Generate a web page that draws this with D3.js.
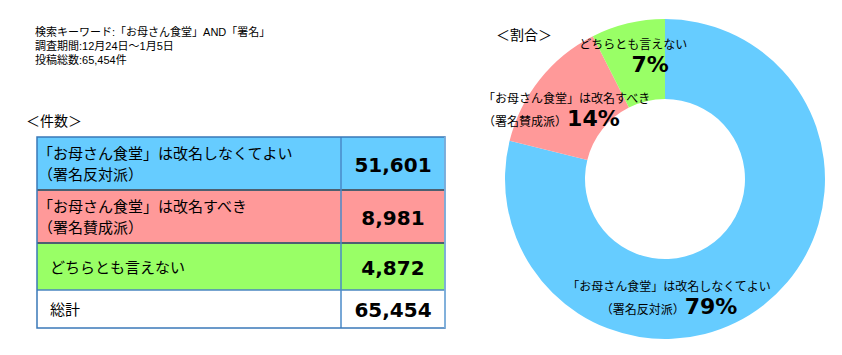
<!DOCTYPE html>
<html>
<head>
<meta charset="utf-8">
<script src="https://cdn.jsdelivr.net/npm/d3@7"></script>
<style>
  body { margin: 0; background: #fff; }
  text { font-family: "Noto Sans CJK JP", sans-serif; }
  .info { font-family: "Liberation Sans", "Noto Sans CJK JP", sans-serif; }
  .num { font-family: "DejaVu Sans", Verdana, sans-serif; font-weight: bold; }
</style>
</head>
<body>
<div id="chart"></div>
<script>
// header info
const infoLines = ["検索キーワード:「お母さん食堂」AND「署名」", "調査期間:12月24日～1月5日", "投稿総数:65,454件"];

// categories (two-line labels), counts and colours
const labelLine1 = ["「お母さん食堂」は改名しなくてよい", "「お母さん食堂」は改名すべき", "どちらとも言えない"];
const labelLine2 = ["（署名反対派）", "（署名賛成派）", ""];
const counts = [51601, 8981, 4872];
const colors = ["#66ccff", "#ff9999", "#99ff66"];
const totalLabel = "総計";

const W = 842, H = 355;
const svg = d3.select("#chart").append("svg").attr("width", W).attr("height", H);

const fmt = d3.format(",");
const total = d3.sum(counts);

// info text
svg.append("g").selectAll("text").data(infoLines).join("text")
  .attr("class", "info")
  .attr("x", 35).attr("y", (d, i) => 36 + i * 14)
  .attr("font-size", 11).attr("fill", "#000").text(d => d);

svg.append("text").attr("x", 26).attr("y", 126).attr("font-size", 14).text("＜件数＞");

// ---- table ----
const tbl = { x: 37, colX: 341, right: 445 };
const rowNames = d3.range(counts.length + 1);
const rowHeights = [53, 53, 47, 38];
const y0 = 137;
const rowY = rowHeights.map((h, i) => y0 + d3.sum(rowHeights.slice(0, i)));

const rows = svg.append("g").selectAll("g").data(rowNames).join("g")
  .attr("transform", i => `translate(0,${rowY[i]})`);

rows.append("rect")
  .attr("x", tbl.x).attr("width", tbl.right - tbl.x)
  .attr("height", i => rowHeights[i])
  .attr("fill", i => i < counts.length ? colors[i] : "#fff");

// labels
rows.each(function(i) {
  const g = d3.select(this);
  const h = rowHeights[i];
  if (i === counts.length) {
    g.append("text").attr("x", 50).attr("y", h / 2 + 6).attr("font-size", 15).text(totalLabel);
  } else if (labelLine2[i]) {
    g.append("text").attr("x", 38).attr("y", h / 2 - 5).attr("font-size", 15).text(labelLine1[i]);
    g.append("text").attr("x", 38).attr("y", h / 2 + 16).attr("font-size", 15).text(labelLine2[i]);
  } else {
    g.append("text").attr("x", 50).attr("y", h / 2 + 6).attr("font-size", 15).text(labelLine1[i]);
  }
  g.append("text").attr("class", "num")
    .attr("x", (tbl.colX + tbl.right) / 2).attr("y", h / 2 + 8)
    .attr("text-anchor", "middle").attr("font-size", 20)
    .text(fmt(i < counts.length ? counts[i] : total));
});

// grid lines
const tblBottom = y0 + d3.sum(rowHeights);
rowY.slice(1).forEach((y, i) => {
  svg.append("line").attr("x1", tbl.x).attr("x2", tbl.right)
    .attr("y1", y).attr("y2", y)
    .attr("stroke", i < 2 ? "#4d6070" : "#4a86c0").attr("stroke-width", i < 2 ? 2 : 1.5);
});
svg.append("line").attr("x1", tbl.colX).attr("x2", tbl.colX).attr("y1", y0).attr("y2", tblBottom)
  .attr("stroke", "#4a8ac8").attr("stroke-width", 1.5);
svg.append("rect").attr("x", tbl.x).attr("y", y0)
  .attr("width", tbl.right - tbl.x).attr("height", tblBottom - y0)
  .attr("fill", "none").attr("stroke", "#3a78b8").attr("stroke-width", 1.5);
svg.append("line").attr("x1", tbl.right).attr("x2", tbl.right).attr("y1", y0).attr("y2", tblBottom)
  .attr("stroke", "#8ab8e0").attr("stroke-width", 1.5);

// ---- donut ----
const cx = 665, cy = 179, rOuter = 160, rInner = 80;
svg.append("text").attr("x", 496).attr("y", 40).attr("font-size", 14).text("＜割合＞");

const pie = d3.pie().sort(null).value(d => d)(counts);
const arc = d3.arc().innerRadius(rInner).outerRadius(rOuter);
const midArc = d3.arc().innerRadius(120).outerRadius(120);

const donut = svg.append("g").attr("transform", `translate(${cx},${cy})`);
donut.selectAll("path").data(pie).join("path")
  .attr("d", arc).attr("fill", (d, i) => colors[i]);

const pct = d3.format(".0%");
// label offsets relative to arc centroid, and text alignment
const labelOffset = [[-70, 22], [-88, 3], [-4, -9]];
const labelAnchor = ["middle", "start", "middle"];

pie.forEach((d, i) => {
  const [mx, my] = midArc.centroid(d);
  const lx = mx + labelOffset[i][0], ly = my + labelOffset[i][1];
  const g = donut.append("g").attr("transform", `translate(${lx},${ly})`);
  g.append("text").attr("text-anchor", labelAnchor[i]).attr("font-size", 12)
    .attr("y", -4).text(labelLine1[i]);
  if (labelLine2[i]) {
    const t2 = g.append("text").attr("text-anchor", labelAnchor[i]).attr("y", 19);
    t2.append("tspan").attr("font-size", 12).text(labelLine2[i]);
    t2.append("tspan").attr("class", "num").attr("font-size", 22).text(pct(counts[i] / total));
  } else {
    g.append("text").attr("class", "num").attr("text-anchor", "middle").attr("font-size", 22)
      .attr("x", 17).attr("y", 19).text(pct(counts[i] / total));
  }
});
</script>
</body>
</html>
